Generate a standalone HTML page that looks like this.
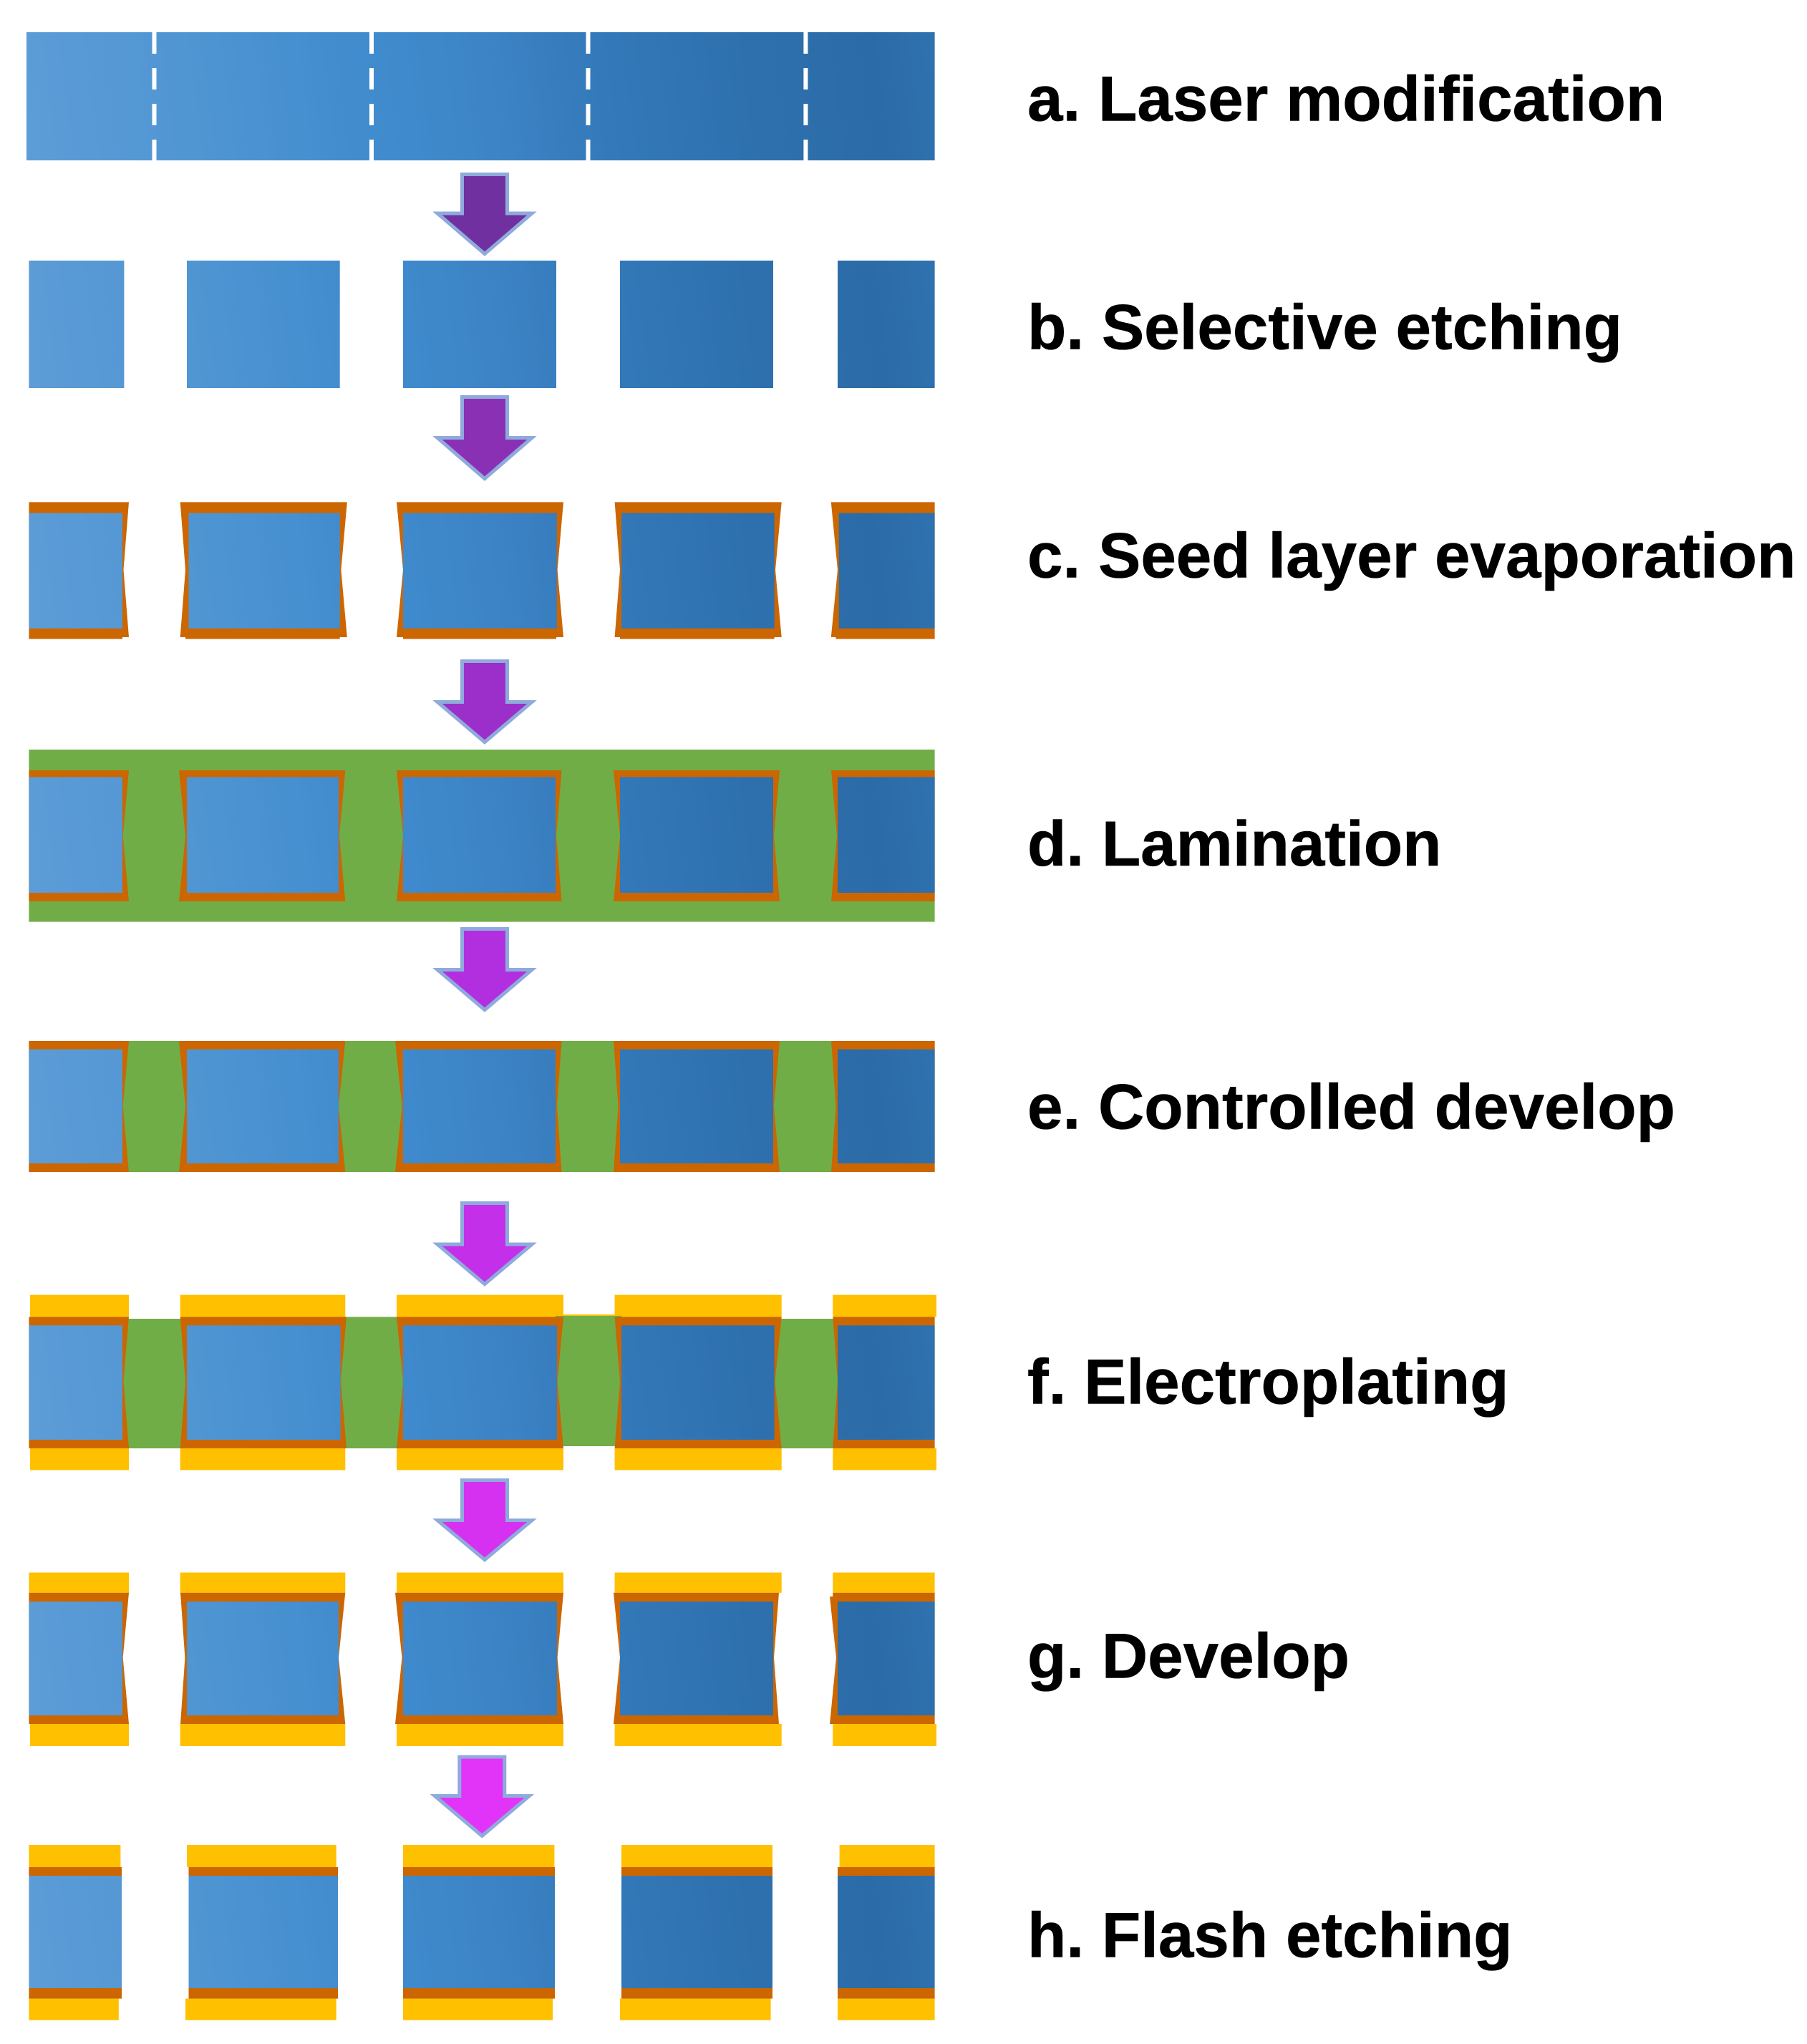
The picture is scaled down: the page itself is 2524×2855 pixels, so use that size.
<!DOCTYPE html>
<html><head><meta charset="utf-8"><style>
html,body{margin:0;padding:0;background:#fff;width:2524px;height:2855px;overflow:hidden}
svg{display:block}
text{font-family:"Liberation Sans",Arial,sans-serif;font-weight:bold;font-size:89px;fill:#000;stroke:#000;stroke-width:.6px;text-rendering:geometricPrecision}
.o{fill:#CC6600}.y{fill:#FFC000}.g{fill:#70AD47}
.a{stroke:#8FAADC;stroke-width:5;stroke-miterlimit:10}
</style></head><body>
<svg width="2524" height="2855" viewBox="0 0 2524 2855" xmlns="http://www.w3.org/2000/svg" shape-rendering="geometricPrecision">
<defs>
<linearGradient id="s">
<stop offset="0" stop-color="#5D9CD7"/><stop offset=".18" stop-color="#5096D3"/><stop offset=".34" stop-color="#438DCF"/><stop offset=".42" stop-color="#3F8ACC"/><stop offset=".52" stop-color="#3C83C5"/><stop offset=".65" stop-color="#3378B8"/><stop offset=".8" stop-color="#2E70AE"/><stop offset=".93" stop-color="#2B6BA7"/><stop offset="1" stop-color="#2F72AF"/>
</linearGradient>
<linearGradient id="ga" href="#s" gradientUnits="userSpaceOnUse" x1="37" y1="214" x2="1305" y2="54"/>
<linearGradient id="gb" href="#s" gradientUnits="userSpaceOnUse" x1="37" y1="533" x2="1305" y2="373"/>
<linearGradient id="gc" href="#s" gradientUnits="userSpaceOnUse" x1="37" y1="875" x2="1305" y2="715"/>
<linearGradient id="gd" href="#s" gradientUnits="userSpaceOnUse" x1="37" y1="1246" x2="1305" y2="1086"/>
<linearGradient id="ge" href="#s" gradientUnits="userSpaceOnUse" x1="37" y1="1625" x2="1305" y2="1465"/>
<linearGradient id="gf" href="#s" gradientUnits="userSpaceOnUse" x1="37" y1="2011" x2="1305" y2="1851"/>
<linearGradient id="gg" href="#s" gradientUnits="userSpaceOnUse" x1="37" y1="2396" x2="1305" y2="2236"/>
<linearGradient id="gh" href="#s" gradientUnits="userSpaceOnUse" x1="37" y1="2778" x2="1305" y2="2618"/>
</defs>

<!-- a -->
<rect x="37" y="45" width="1268.6" height="179" fill="url(#ga)"/>
<g stroke="#fff" stroke-width="6" stroke-dasharray="30 20" fill="none">
<line x1="215.5" y1="45" x2="215.5" y2="224"/><line x1="519" y1="45" x2="519" y2="224"/><line x1="821.5" y1="45" x2="821.5" y2="224"/><line x1="1125.4" y1="45" x2="1125.4" y2="224"/>
</g>

<polygon class="a" fill="#7030A0" points="645.5,243.5 708.5,243.5 708.5,298 743,298 677,354.6 611,298 645.5,298"/>

<!-- b -->
<g fill="url(#gb)">
<rect x="40.4" y="364" width="133" height="178"/><rect x="261" y="364" width="213.7" height="178"/><rect x="563" y="364" width="214" height="178"/><rect x="866" y="364" width="214" height="178"/><rect x="1170" y="364" width="135.6" height="178"/>
</g>

<polygon class="a" fill="#8A30B4" points="645.5,554.5 708.5,554.5 708.5,611.5 743,611.5 677,668.6 611,611.5 645.5,611.5"/>

<!-- c -->
<g class="o">
<polygon points="40.4,701.4 180,701.4 172.5,796 180,890 171,890 171,892.5 40.4,892.5"/>
<polygon points="251.7,701.4 484.8,701.4 476.4,796 484.8,890 474.7,890 474.7,892.5 259,892.5 259,890 251.7,890 259,796"/>
<polygon points="554,701.4 787,701.4 778.6,796 787,890 777,890 777,892.5 563,892.5 563,890 554,890 563,796"/>
<polygon points="858.6,701.4 1091.7,701.4 1083,796 1091.7,890 1081.6,890 1081.6,892.5 866,892.5 866,890 858.6,890 866,796"/>
<polygon points="1160.8,701.4 1305.6,701.4 1305.6,892.5 1167.5,892.5 1167.5,890 1160.8,890 1170,796"/>
</g>
<g fill="url(#gc)">
<rect x="40.4" y="716.6" width="130.6" height="161.2"/><rect x="263.5" y="716.6" width="211.2" height="161.2"/><rect x="563" y="716.6" width="214.8" height="161.2"/><rect x="868" y="716.6" width="213.6" height="161.2"/><rect x="1171.7" y="716.6" width="133.9" height="161.2"/>
</g>

<polygon class="a" fill="#9C2FCA" points="645.5,923.5 708.5,923.5 708.5,980.5 743,980.5 677,1036.6 611,980.5 645.5,980.5"/>

<!-- d -->
<rect class="g" x="40.4" y="1047" width="1265.2" height="240.6"/>
<g class="o">
<polygon points="40.4,1076 180,1076 171.7,1167.5 180,1259 40.4,1259"/>
<polygon points="250,1076 482.3,1076 474,1167.5 482.3,1259 250,1259 259,1167.5"/>
<polygon points="554,1076 784.5,1076 777,1167.5 784.5,1259 554,1259 563,1167.5"/>
<polygon points="857,1076 1089,1076 1081,1167.5 1089,1259 857,1259 866,1167.5"/>
<polygon points="1161,1076 1305.6,1076 1305.6,1259 1161,1259 1169,1167.5"/>
</g>
<g fill="url(#gd)">
<rect x="40.4" y="1085.4" width="130.6" height="161.6"/><rect x="261" y="1085.4" width="212" height="161.6"/><rect x="563" y="1085.4" width="213" height="161.6"/><rect x="866" y="1085.4" width="214" height="161.6"/><rect x="1170" y="1085.4" width="135.6" height="161.6"/>
</g>

<polygon class="a" fill="#B22FE0" points="645.5,1297.5 708.5,1297.5 708.5,1354.5 743,1354.5 677,1410.6 611,1354.5 645.5,1354.5"/>

<!-- e -->
<rect class="g" x="40.4" y="1454" width="1265.2" height="183"/>
<g class="o">
<polygon points="40.4,1454 180,1454 171.7,1545 180,1637 40.4,1637"/>
<polygon points="250,1454 482.3,1454 473,1545 482.3,1637 250,1637 259,1545"/>
<polygon points="552,1454 784.5,1454 778,1545 784.5,1637 552,1637 561.5,1545"/>
<polygon points="857,1454 1089,1454 1081,1545 1089,1637 857,1637 863.6,1545"/>
<polygon points="1161,1454 1305.6,1454 1305.6,1637 1161,1637 1167.5,1545"/>
</g>
<g fill="url(#ge)">
<rect x="40.4" y="1465.7" width="130.6" height="159.3"/><rect x="261" y="1465.7" width="212" height="159.3"/><rect x="563" y="1465.7" width="213" height="159.3"/><rect x="866" y="1465.7" width="214" height="159.3"/><rect x="1170" y="1465.7" width="135.6" height="159.3"/>
</g>

<polygon class="a" fill="#C42FEA" points="645.5,1680.5 708.5,1680.5 708.5,1738 743,1738 677,1793.6 611,1738 645.5,1738"/>

<!-- f -->
<g class="y">
<rect x="42" y="1808.6" width="138" height="30.8"/><rect x="251.7" y="1808.6" width="230.6" height="30.8"/><rect x="554" y="1808.6" width="233" height="30.8"/><rect x="858.6" y="1808.6" width="233.1" height="30.8"/><rect x="1163.3" y="1808.6" width="144.7" height="30.8"/>
<rect x="787" y="1836" width="72" height="3"/>
<rect x="42" y="2023" width="138" height="30.4"/><rect x="251.7" y="2023" width="230.6" height="30.4"/><rect x="554" y="2023" width="233" height="30.4"/><rect x="858.6" y="2023" width="233.1" height="30.4"/><rect x="1163.3" y="2023" width="144.7" height="30.4"/>
</g>
<g class="g">
<rect x="170" y="1842" width="90" height="181"/><rect x="474" y="1839.4" width="90" height="183.6"/><rect x="776" y="1838" width="92" height="182"/><rect x="1080" y="1842" width="92" height="181"/>
</g>
<g class="o">
<polygon points="40.4,1839.4 180,1839.4 172.5,1929.5 180,2023 40.4,2023"/>
<polygon points="251.7,1839.4 484,1839.4 476,1929.5 484,2023 251.7,2023 259,1929.5"/>
<polygon points="554,1839.4 787,1839.4 778.6,1929.5 787,2023 554,2023 563,1929.5"/>
<polygon points="858.6,1839.4 1091.7,1839.4 1082.5,1929.5 1091.7,2023 858.6,2023 866,1929.5"/>
<polygon points="1163.3,1839.4 1305.6,1839.4 1305.6,2023 1163.3,2023 1170,1929.5"/>
</g>
<g fill="url(#gf)">
<rect x="40.4" y="1851.3" width="130.6" height="159.7"/><rect x="261" y="1851.3" width="214.6" height="159.7"/><rect x="563" y="1851.3" width="215" height="159.7"/><rect x="868" y="1851.3" width="213.6" height="159.7"/><rect x="1170" y="1851.3" width="135.6" height="159.7"/>
</g>

<polygon class="a" fill="#D630F0" points="645.5,2067.5 708.5,2067.5 708.5,2123.5 743,2123.5 677,2178.6 611,2123.5 645.5,2123.5"/>

<!-- g -->
<g class="y">
<rect x="40.4" y="2196.5" width="139.6" height="28.3"/><rect x="251.7" y="2196.5" width="230.6" height="28.3"/><rect x="554" y="2196.5" width="233" height="28.3"/><rect x="858.6" y="2196.5" width="233.1" height="28.3"/><rect x="1163.3" y="2196.5" width="142.3" height="28.3"/>
<rect x="42" y="2408" width="138" height="31"/><rect x="251.7" y="2408" width="230.6" height="31"/><rect x="554" y="2408" width="233" height="31"/><rect x="858.6" y="2408" width="233.1" height="31"/><rect x="1163.3" y="2408" width="144.7" height="31"/>
</g>
<g class="o">
<polygon points="40.4,2224.8 180,2224.8 171.7,2315.5 180,2408 40.4,2408"/>
<polygon points="252,2224.8 482.3,2224.8 473,2315.5 482.3,2408 252,2408 258.4,2315.5"/>
<polygon points="552,2224.8 787,2224.8 778.6,2315.5 787,2408 552,2408 561.5,2315.5"/>
<polygon points="857,2224.8 1088,2224.8 1081,2315.5 1088,2408 857,2408 866,2315.5"/>
<polygon points="1159,2230 1163.3,2230 1163.3,2224.8 1305.6,2224.8 1305.6,2408 1159,2408 1168,2315.5"/>
</g>
<g fill="url(#gg)">
<rect x="40.4" y="2237" width="130.6" height="159"/><rect x="261" y="2237" width="212" height="159"/><rect x="563" y="2237" width="215" height="159"/><rect x="866" y="2237" width="214" height="159"/><rect x="1170" y="2237" width="135.6" height="159"/>
</g>

<polygon class="a" fill="#E234F8" points="641.8,2454 704.8,2454 704.8,2508.5 739.3,2508.5 673.3,2564.3 607.3,2508.5 641.8,2508.5"/>

<!-- h -->
<g class="y">
<rect x="40.4" y="2577" width="128" height="31"/><rect x="261" y="2577" width="208.7" height="31"/><rect x="563" y="2577" width="211.4" height="31"/><rect x="868" y="2577" width="211" height="31"/><rect x="1172.6" y="2577" width="133" height="31"/>
<rect x="40.4" y="2791.6" width="125.4" height="30.1"/><rect x="259" y="2791.6" width="210.7" height="30.1"/><rect x="563" y="2791.6" width="209" height="30.1"/><rect x="866" y="2791.6" width="210.6" height="30.1"/><rect x="1170" y="2791.6" width="135.6" height="30.1"/>
</g>
<g class="o">
<rect x="40.4" y="2608" width="129.6" height="12"/><rect x="263.5" y="2608" width="208.5" height="12"/><rect x="563" y="2608" width="212" height="12"/><rect x="868" y="2608" width="211" height="12"/><rect x="1170" y="2608" width="135.6" height="12"/>
<rect x="40.4" y="2777" width="129.6" height="14.6"/><rect x="263.5" y="2777" width="208.5" height="14.6"/><rect x="563" y="2777" width="212" height="14.6"/><rect x="868" y="2777" width="211" height="14.6"/><rect x="1170" y="2777" width="135.6" height="14.6"/>
</g>
<g fill="url(#gh)">
<rect x="40.4" y="2620" width="129.6" height="157"/><rect x="263.5" y="2620" width="208.5" height="157"/><rect x="563" y="2620" width="212" height="157"/><rect x="868" y="2620" width="211" height="157"/><rect x="1170" y="2620" width="135.6" height="157"/>
</g>

<!-- labels -->
<text x="1435" y="168.7">a. Laser modification</text>
<text x="1435" y="487.6">b. Selective etching</text>
<text x="1435" y="806.4">c. Seed layer evaporation</text>
<text x="1435" y="1209">d. Lamination</text>
<text x="1435" y="1576.5">e. Controlled develop</text>
<text x="1435" y="1960.5">f. Electroplating</text>
<text x="1435" y="2343.5">g. Develop</text>
<text x="1435" y="2733.6">h. Flash etching</text>
</svg>
</body></html>
